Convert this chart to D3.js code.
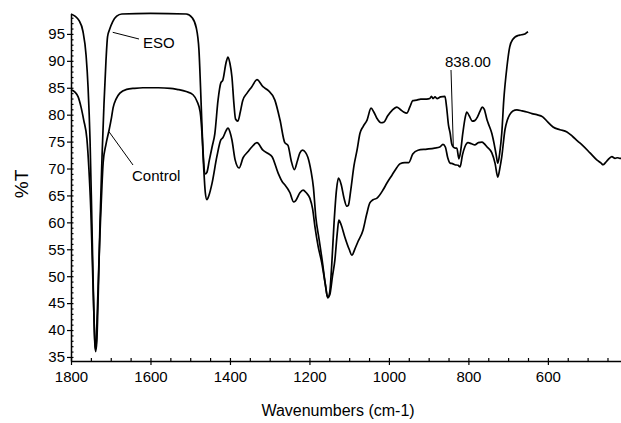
<!DOCTYPE html>
<html>
<head>
<meta charset="utf-8">
<script src="https://cdn.jsdelivr.net/npm/d3@7"></script>
<style>
  body { margin: 0; background: #fff; }
  svg text { font-family: "Liberation Sans", Arial, sans-serif; fill: #000; }
</style>
</head>
<body>
<div id="chart"></div>
<script>
// ESO spectrum (wavenumber, %T)
const esoWave = [1800,1790,1780,1770,1762,1757,1752,1748,1744,1740,1738,1735,1731,1727,1722,1717,1712,1708,1703,1695,1685,1672,1600,1510,1495,1485,1478,1474,1470,1466,1462,1458,1452,1445,1438,1430,1423,1418,1410,1405,1400,1395,1390,1386,1380,1374,1368,1357,1345,1332,1317,1304,1287,1274,1262,1254,1246,1238,1230,1224,1217,1210,1204,1196,1190,1184,1176,1168,1160,1154,1149,1144,1138,1132,1127,1120,1113,1106,1102,1096,1088,1080,1073,1065,1055,1045,1038,1030,1020,1013,1003,992,980,972,963,955,947,940,930,920,905,897,893,889,884,879,870,859,855,850,846,842,838,833,829,824,820,814,808,804,798,790,784,777,771,765,760,753,747,741,735,730,726,721,716,711,703,696,688,683,675,670,663,658,654,650];
const esoT = [98.7,98.3,97.5,95.5,91,85,75,62,48,37.5,36,38,48,60,72,82,90,94.5,95.8,97.3,98.3,98.7,98.8,98.7,98.0,96.2,92,85,77,71,69.0,69.3,71.5,74,76.5,82.7,85.9,86.4,89.6,90.7,89.5,87,82,79.2,78.8,80.5,82.6,84.0,85.2,86.5,85.2,84.5,82.7,79,74.8,74.3,71.5,69.8,71.5,72.9,73.4,73,72.1,69.5,66.5,61,57,53,48.5,46,47,52,60,66,68.2,67,64.5,63,63.2,66,70.5,73.5,76.5,77.8,79,81.2,80.5,79.3,78.5,78.6,79.8,80.8,81.4,81,80.5,80.3,81.5,82.6,82.7,82.9,82.9,83.0,83.4,83.0,83.3,83.0,83.3,83.4,81.5,78,76.6,74.6,74.0,73.8,73.8,71.8,73,76.6,79.5,80.5,79.8,78.8,78.9,79.6,80.6,81.4,81,79,77.8,76.5,74.5,72.5,71,73,76.6,82.7,88.9,92.6,94,94.4,94.7,94.8,94.9,95.0,95.2,95.4];

// Control spectrum (wavenumber, %T)
const ctrlWave = [1800,1790,1782,1775,1768,1760,1755,1750,1746,1742,1739,1737,1734,1730,1726,1722,1719,1712,1704,1698,1694,1686,1677,1660,1640,1619,1580,1550,1533,1510,1493,1483,1475,1470,1466,1462,1458,1453,1445,1433,1423,1418,1410,1405,1400,1395,1387,1377,1367,1355,1345,1332,1317,1304,1294,1279,1268,1262,1249,1240,1235,1224,1216,1208,1199,1192,1186,1178,1169,1160,1154,1149,1142,1136,1130,1126,1120,1111,1100,1093,1086,1078,1065,1056,1048,1040,1030,1015,1005,992,980,972,960,950,940,927,904,885,872,864,858,852,846,840,834,826,821,815,809,801,792,784,775,766,760,753,741,733,726,721,716,708,702,696,688,678,665,653,640,628,613,600,587,570,552,537,525,514,494,477,466,461,455,449,439,431,425,419,416];
const ctrlT = [84.6,84.2,83.3,81.5,79,75.5,70,62,52,42,36.5,37,43,52,60,67,71.2,74.5,77.2,79.5,81.3,83,84.0,84.7,84.9,85.0,85.0,84.9,84.7,84.3,83.7,82.5,80.5,76,70,65.5,64.2,65,67.3,72.2,75.3,75.7,77,77.5,76.8,75.3,71.6,70.1,72.0,73.1,74,74.8,73.4,72.8,72.2,69.2,67.5,67.0,65.5,63.8,64,65.5,66.0,65.5,64.5,62.5,59.1,55.5,52.5,48.5,46.0,46.5,50,53,58,60.4,59.5,57.3,55,53.9,55,56.4,58.6,61.5,63.6,64.2,64.5,66.0,67.3,68.8,70.2,70.9,71.1,71.1,72.7,73.4,73.6,73.8,74.0,74.5,74.0,72,71.0,70.9,70.7,70.6,70.3,72.5,74.0,74.8,74.6,74.4,74.8,74.9,74.6,74.0,72.9,71.0,68.4,70,72.2,77.2,79,80.0,80.7,80.9,80.7,80.5,80.2,80.0,79.6,78.6,77.7,77.2,76.8,75.9,75.1,74.4,72.9,71.6,71.0,70.7,71.1,71.6,72.2,71.9,72.0,71.9,71.9];

const xTicks = [1800, 1600, 1400, 1200, 1000, 800, 600];
const yTicks = [35, 40, 45, 50, 55, 60, 65, 70, 75, 80, 85, 90, 95];

const width = 621, height = 423;
const svg = d3.select("#chart").append("svg")
  .attr("width", width)
  .attr("height", height);

const x = d3.scaleLinear().domain([1800, 416]).range([71, 621]);
const y = d3.scaleLinear().domain([34.25, 98.7]).range([361, 14]);

// minor ticks (inside)
const xMinor = d3.range(1800, 416, -50);
const yMinor = d3.range(35, 99, 1);

svg.append("g")
  .attr("transform", "translate(0,361)")
  .call(d3.axisTop(x).tickValues(xMinor).tickSize(3).tickFormat(""))
  .call(g => g.select(".domain").remove());

svg.append("g")
  .attr("transform", "translate(71,0)")
  .call(d3.axisRight(y).tickValues(yMinor).tickSize(2.5).tickFormat(""))
  .call(g => g.select(".domain").remove());

// major axes
const xAxis = svg.append("g")
  .attr("transform", "translate(0,361)")
  .call(d3.axisBottom(x).tickValues(xTicks).tickFormat(d3.format("d"))
    .tickSize(4).tickSizeOuter(0).tickPadding(6));
xAxis.selectAll("text").attr("font-size", 15).attr("font-family", "Liberation Sans, Arial, sans-serif");

const yAxis = svg.append("g")
  .attr("transform", "translate(71,0)")
  .call(d3.axisLeft(y).tickValues(yTicks).tickSize(4).tickSizeOuter(0).tickPadding(2));
yAxis.selectAll("text").attr("font-size", 15).attr("font-family", "Liberation Sans, Arial, sans-serif");

svg.selectAll(".domain").attr("stroke-width", 1.5);
svg.selectAll(".tick line").attr("stroke-width", 1.2);

const line = d3.line()
  .x(d => x(d[0]))
  .y(d => y(d[1]))
  .curve(d3.curveMonotoneX);

svg.append("path")
  .datum(ctrlWave.map((w, i) => [w, ctrlT[i]]))
  .attr("d", line)
  .attr("fill", "none")
  .attr("stroke", "#000")
  .attr("stroke-width", 1.7);

svg.append("path")
  .datum(esoWave.map((w, i) => [w, esoT[i]]))
  .attr("d", line)
  .attr("fill", "none")
  .attr("stroke", "#000")
  .attr("stroke-width", 1.7);

// annotations
const notes = svg.append("g").attr("stroke", "#000").attr("stroke-width", 1);
notes.append("line").attr("x1", x(1695)).attr("y1", y(95.3)).attr("x2", 139).attr("y2", 39);
notes.append("line").attr("x1", x(1704)).attr("y1", y(76.8)).attr("x2", 133).attr("y2", 165);
notes.append("line").attr("x1", 451).attr("y1", 70).attr("x2", x(838)).attr("y2", y(74.2));

svg.append("text").attr("x", 143).attr("y", 48).attr("font-size", 15).text("ESO");
svg.append("text").attr("x", 132).attr("y", 181).attr("font-size", 15).text("Control");
svg.append("text").attr("x", 445).attr("y", 67).attr("font-size", 15).text("838.00");

// axis titles
svg.append("text")
  .attr("x", 338).attr("y", 416)
  .attr("text-anchor", "middle")
  .attr("font-size", 16)
  .text("Wavenumbers (cm-1)");

svg.append("text")
  .attr("transform", "translate(28,184) rotate(-90)")
  .attr("text-anchor", "middle")
  .attr("font-size", 19)
  .text("%T");
</script>
</body>
</html>
